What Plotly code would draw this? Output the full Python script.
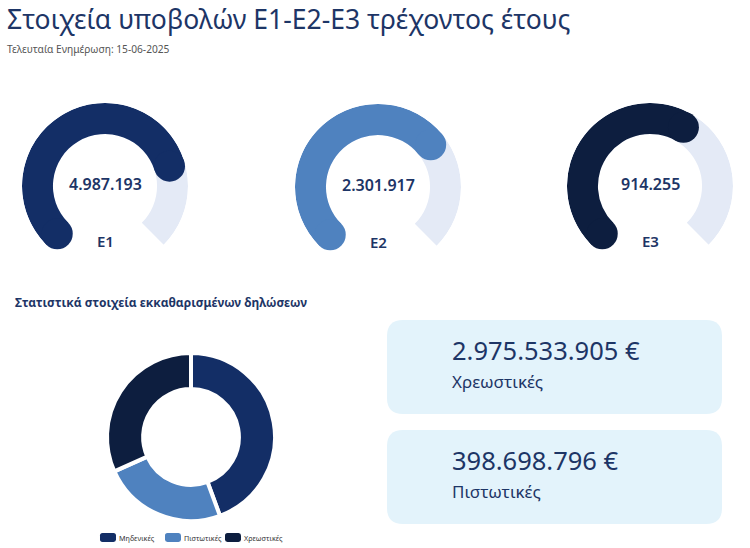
import plotly.graph_objects as go

# ---------------- data ----------------
gauge_names = ["E1", "E2", "E3"]
gauge_values = [4987193, 2301917, 914255]
gauge_percent = [77, 69, 61]          # filled share of each gauge arc (estimated)

donut_labels = ["Μηδενικές", "Πιστωτικές", "Χρεωστικές"]
donut_shares = [44.4, 23.9, 31.7]     # estimated shares

box_amounts = [2975533905, 398698796]
box_labels = ["Χρεωστικές", "Πιστωτικές"]

title_text = "Στοιχεία υποβολών E1-E2-E3 τρέχοντος έτους"
subtitle_text = "Τελευταία Ενημέρωση: 15-06-2025"
section_text = "Στατιστικά στοιχεία εκκαθαρισμένων δηλώσεων"

# ---------------- styles ----------------
W, H = 750, 548
NAVY_TEXT = "#1d3566"
gauge_colors = ["#132e66", "#4f82bf", "#0d1e3f"]
donut_colors = ["#132e66", "#4f82bf", "#0d1e3f"]
TRACK = "#e4eaf6"
BOX_FILL = "#e3f3fb"
FONT = "Noto Sans"


def fmt(v):
    return f"{v:,}".replace(",", ".")


def px_x(x):
    return x / W


def px_y(y):
    return 1 - y / H


def rounded_rect(x0, y0, x1, y1, rad):
    pts = []
    p = (f"M {x0+rad},{y0} L {x1-rad},{y0} Q {x1},{y0} {x1},{y0+rad} "
         f"L {x1},{y1-rad} Q {x1},{y1} {x1-rad},{y1} L {x0+rad},{y1} "
         f"Q {x0},{y1} {x0},{y1-rad} L {x0},{y0+rad} Q {x0},{y0} {x0+rad},{y0} Z")
    for tok in p.split(" "):
        if "," in tok:
            a, b = tok.split(",")
            pts.append(f"{px_x(float(a)):.5f},{px_y(float(b)):.5f}")
        else:
            pts.append(tok)
    return " ".join(pts)


fig = go.Figure()

gauge_centers = [(105, 186), (378, 187), (650, 186)]
R_OUT = 83
HOLE = 0.627
THICK_PX = R_OUT * (1 - HOLE)
START = -135.0
SPAN = 270.0

layout_polars = {}
annotations = []
shapes = []
for i, (name, val, pct, col, (cx, cy)) in enumerate(
        zip(gauge_names, gauge_values, gauge_percent, gauge_colors, gauge_centers)):
    pid = "polar" if i == 0 else f"polar{i+1}"
    # track
    fig.add_trace(go.Barpolar(
        r=[1 - HOLE], base=[HOLE], theta=[START + SPAN / 2], width=[SPAN],
        marker=dict(color=TRACK, line=dict(width=0)), subplot=pid,
        showlegend=False, hoverinfo="skip"))
    # value arc
    ang = SPAN * pct / 100.0
    fig.add_trace(go.Barpolar(
        r=[1 - HOLE], base=[HOLE], theta=[START + ang / 2], width=[ang],
        marker=dict(color=col, line=dict(width=0)), subplot=pid,
        showlegend=False, hoverinfo="skip"))
    # rounded caps
    fig.add_trace(go.Scatterpolar(
        r=[(1 + HOLE) / 2, (1 + HOLE) / 2], theta=[START, START + ang],
        mode="markers", marker=dict(size=THICK_PX, color=col, line=dict(width=0)),
        subplot=pid, showlegend=False, hoverinfo="skip"))
    layout_polars[pid] = dict(
        domain=dict(x=[px_x(cx - R_OUT), px_x(cx + R_OUT)],
                    y=[px_y(cy + R_OUT), px_y(cy - R_OUT)]),
        bgcolor="rgba(0,0,0,0)",
        radialaxis=dict(visible=False, range=[0, 1], showgrid=False),
        angularaxis=dict(visible=False, rotation=90, direction="clockwise",
                         showgrid=False),
        barmode="overlay",
    )
    annotations.append(dict(
        x=px_x(cx), y=px_y(cy - 2), xref="paper", yref="paper",
        text=fmt(val), showarrow=False, xanchor="center", yanchor="middle",
        font=dict(family=FONT, size=16, color=NAVY_TEXT, weight=600)))
    annotations.append(dict(
        x=px_x(cx), y=px_y(cy + 55), xref="paper", yref="paper",
        text=name, showarrow=False, xanchor="center", yanchor="middle",
        font=dict(family=FONT, size=15, color=NAVY_TEXT, weight=600)))

# donut
dcx, dcy, dr = 191, 437, 84
fig.add_trace(go.Pie(
    labels=donut_labels, values=donut_shares, hole=0.57, sort=False,
    direction="clockwise", rotation=0, textinfo="none",
    marker=dict(colors=donut_colors, line=dict(color="white", width=4)),
    domain=dict(x=[px_x(dcx - dr), px_x(dcx + dr)],
                y=[px_y(dcy + dr), px_y(dcy - dr)]),
    hoverinfo="label+percent", showlegend=False))

# legend drawn from the donut labels / colours
legend_x = [100, 165, 225]
for lx, lab, col in zip(legend_x, donut_labels, donut_colors):
    shapes.append(dict(type="path", xref="paper", yref="paper",
                       path=rounded_rect(lx, 533, lx + 16, 542, 2.5),
                       fillcolor=col, line=dict(width=0)))
    annotations.append(dict(
        x=px_x(lx + 17), y=px_y(537.5), xref="paper", yref="paper", text=lab,
        showarrow=False, xanchor="left", yanchor="middle",
        font=dict(family=FONT, size=7.2, color="#333333")))

# title texts
annotations += [
    dict(x=px_x(5), y=px_y(19), xref="paper", yref="paper", text=title_text,
         showarrow=False, xanchor="left", yanchor="middle",
         font=dict(family=FONT, size=26.5, color=NAVY_TEXT)),
    dict(x=px_x(5), y=px_y(49), xref="paper", yref="paper", text=subtitle_text,
         showarrow=False, xanchor="left", yanchor="middle",
         font=dict(family=FONT, size=10.2, color="#555555")),
    dict(x=px_x(13), y=px_y(302), xref="paper", yref="paper", text=section_text,
         showarrow=False, xanchor="left", yanchor="middle",
         font=dict(family=FONT, size=12, color=NAVY_TEXT, weight=700)),
]

# boxes
box_tops = [320, 430]
bx0, bx1, bh, rad = 387, 722, 94, 16
for amt, lab, top in zip(box_amounts, box_labels, box_tops):
    shapes.append(dict(type="path", xref="paper", yref="paper",
                       path=rounded_rect(bx0, top, bx1, top + bh, rad),
                       fillcolor=BOX_FILL, line=dict(width=0), layer="below"))
    annotations.append(dict(
        x=px_x(450), y=px_y(top + 30), xref="paper", yref="paper",
        text=f"{fmt(amt)} €", showarrow=False, xanchor="left", yanchor="middle",
        font=dict(family=FONT, size=25.5, color=NAVY_TEXT)))
    annotations.append(dict(
        x=px_x(450), y=px_y(top + 61), xref="paper", yref="paper",
        text=lab, showarrow=False, xanchor="left", yanchor="middle",
        font=dict(family=FONT, size=17, color=NAVY_TEXT)))

fig.update_layout(
    width=W, height=H, margin=dict(l=0, r=0, t=0, b=0),
    paper_bgcolor="white", plot_bgcolor="white",
    annotations=annotations, shapes=shapes,
    showlegend=False,
    **layout_polars,
)

fig.write_html("out.html",
               config={"displayModeBar": False},
               post_script="document.body.style.margin='0';")
